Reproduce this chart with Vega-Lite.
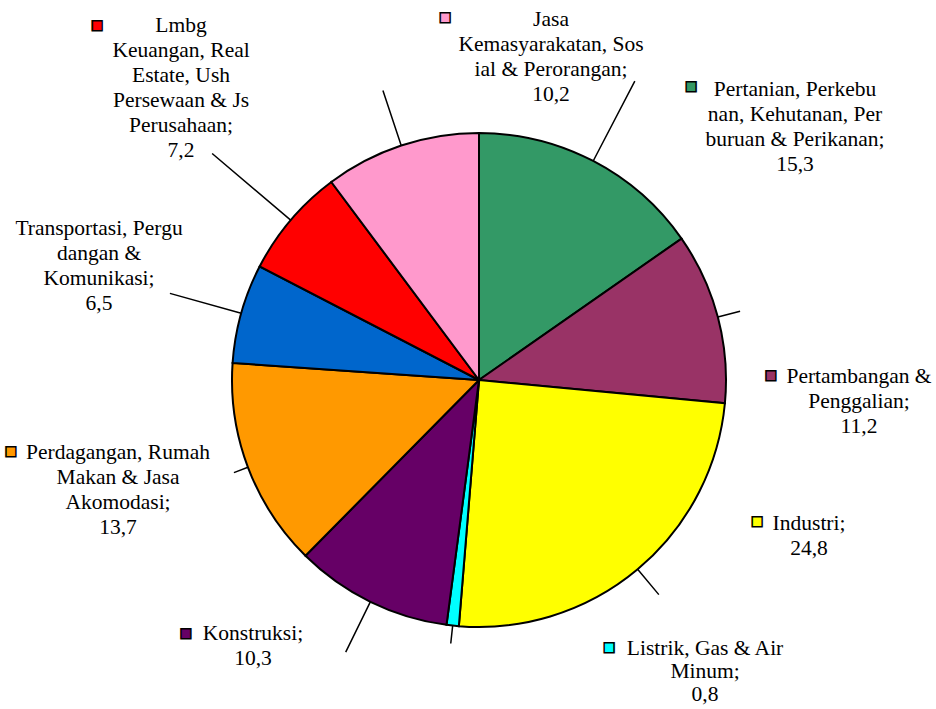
{
  "$schema": "https://vega.github.io/schema/vega-lite/v6.json",
  "width": 914,
  "height": 658,
  "padding": {"left": 22, "top": 51, "right": 0, "bottom": 0},
  "autosize": {"type": "none"},
  "background": "white",
  "config": {"view": {"stroke": null}},
  "data": {
    "values": [
      {"idx": 1, "sektor": "Pertanian", "nilai": 15.3, "label": "Pertanian, Perkebu\nnan, Kehutanan, Per\nburuan & Perikanan;\n15,3"},
      {"idx": 2, "sektor": "Pertambangan", "nilai": 11.2, "label": "Pertambangan &\nPenggalian;\n11,2"},
      {"idx": 3, "sektor": "Industri", "nilai": 24.8, "label": "Industri;\n24,8"},
      {"idx": 4, "sektor": "Listrik", "nilai": 0.8, "label": "Listrik, Gas  & Air\nMinum;\n0,8"},
      {"idx": 5, "sektor": "Konstruksi", "nilai": 10.3, "label": "Konstruksi;\n10,3"},
      {"idx": 6, "sektor": "Perdagangan", "nilai": 13.7, "label": "Perdagangan, Rumah\nMakan & Jasa\nAkomodasi;\n13,7"},
      {"idx": 7, "sektor": "Transportasi", "nilai": 6.5, "label": "Transportasi, Pergu\ndangan &\nKomunikasi;\n6,5"},
      {"idx": 8, "sektor": "Keuangan", "nilai": 7.2, "label": "Lmbg\nKeuangan, Real\nEstate, Ush\nPersewaan & Js\nPerusahaan;\n7,2"},
      {"idx": 9, "sektor": "Jasa", "nilai": 10.2, "label": "Jasa\nKemasyarakatan, Sos\nial & Perorangan;\n10,2"}
    ]
  },
  "encoding": {
    "theta": {"field": "nilai", "type": "quantitative", "stack": true},
    "order": {"field": "idx", "type": "quantitative", "sort": "ascending"},
    "detail": {"field": "sektor", "type": "nominal"}
  },
  "layer": [
    {
      "mark": {"type": "arc", "outerRadius": 247, "stroke": "black", "strokeWidth": 2},
      "encoding": {
        "color": {
          "field": "sektor", "type": "nominal", "legend": null,
          "scale": {
            "domain": ["Pertanian", "Pertambangan", "Industri", "Listrik", "Konstruksi", "Perdagangan", "Transportasi", "Keuangan", "Jasa"],
            "range": ["#339966", "#993366", "#FFFF00", "#00FFFF", "#660066", "#FF9900", "#0066CC", "#FF0000", "#FF99CC"]
          }
        }
      }
    },
    {"mark": {"type": "arc", "innerRadius": 247, "outerRadius": 337, "padAngle": 3, "fill": "transparent", "stroke": "black", "strokeWidth": 1.5},
     "encoding": {"opacity": {"condition": {"test": "datum.idx == 1", "value": 1}, "value": 0}}},
    {"mark": {"type": "arc", "innerRadius": 247, "outerRadius": 270, "padAngle": 3, "fill": "transparent", "stroke": "black", "strokeWidth": 1.5},
     "encoding": {"opacity": {"condition": {"test": "datum.idx == 2", "value": 1}, "value": 0}}},
    {"mark": {"type": "arc", "innerRadius": 247, "outerRadius": 280, "padAngle": 3, "fill": "transparent", "stroke": "black", "strokeWidth": 1.5},
     "encoding": {"opacity": {"condition": {"test": "datum.idx == 3", "value": 1}, "value": 0}}},
    {"mark": {"type": "arc", "innerRadius": 247, "outerRadius": 265, "padAngle": 3, "fill": "transparent", "stroke": "black", "strokeWidth": 1.5},
     "encoding": {"opacity": {"condition": {"test": "datum.idx == 4", "value": 1}, "value": 0}}},
    {"mark": {"type": "arc", "innerRadius": 247, "outerRadius": 303, "padAngle": 3, "fill": "transparent", "stroke": "black", "strokeWidth": 1.5},
     "encoding": {"opacity": {"condition": {"test": "datum.idx == 5", "value": 1}, "value": 0}}},
    {"mark": {"type": "arc", "innerRadius": 247, "outerRadius": 262, "padAngle": 3, "fill": "transparent", "stroke": "black", "strokeWidth": 1.5},
     "encoding": {"opacity": {"condition": {"test": "datum.idx == 6", "value": 1}, "value": 0}}},
    {"mark": {"type": "arc", "innerRadius": 247, "outerRadius": 321, "padAngle": 3, "fill": "transparent", "stroke": "black", "strokeWidth": 1.5},
     "encoding": {"opacity": {"condition": {"test": "datum.idx == 7", "value": 1}, "value": 0}}},
    {"mark": {"type": "arc", "innerRadius": 247, "outerRadius": 350, "padAngle": 3, "fill": "transparent", "stroke": "black", "strokeWidth": 1.5},
     "encoding": {"opacity": {"condition": {"test": "datum.idx == 8", "value": 1}, "value": 0}}},
    {"mark": {"type": "arc", "innerRadius": 247, "outerRadius": 305, "padAngle": 3, "fill": "transparent", "stroke": "black", "strokeWidth": 1.5},
     "encoding": {"opacity": {"condition": {"test": "datum.idx == 9", "value": 1}, "value": 0}}},

    {"mark": {"type": "text", "radius": 337, "dx": 56.2, "dy": 4.8, "align": "center", "baseline": "middle", "font": "DejaVu Sans", "fontSize": 13, "stroke": "black", "strokeWidth": 1.5},
     "encoding": {"text": {"condition": {"test": "datum.idx == 1", "value": "■"}, "value": ""}, "color": {"field": "sektor", "type": "nominal", "legend": null}}},
    {"mark": {"type": "text", "radius": 270, "dx": 30.9, "dy": 63.8, "align": "center", "baseline": "middle", "font": "DejaVu Sans", "fontSize": 13, "stroke": "black", "strokeWidth": 1.5},
     "encoding": {"text": {"condition": {"test": "datum.idx == 2", "value": "■"}, "value": ""}, "color": {"field": "sektor", "type": "nominal", "legend": null}}},
    {"mark": {"type": "text", "radius": 280, "dx": 98.2, "dy": -73.6, "align": "center", "baseline": "middle", "font": "DejaVu Sans", "fontSize": 13, "stroke": "black", "strokeWidth": 1.5},
     "encoding": {"text": {"condition": {"test": "datum.idx == 3", "value": "■"}, "value": ""}, "color": {"field": "sektor", "type": "nominal", "legend": null}}},
    {"mark": {"type": "text", "radius": 265, "dx": 158.3, "dy": 3.5, "align": "center", "baseline": "middle", "font": "DejaVu Sans", "fontSize": 13, "stroke": "black", "strokeWidth": 1.5},
     "encoding": {"text": {"condition": {"test": "datum.idx == 4", "value": "■"}, "value": ""}, "color": {"field": "sektor", "type": "nominal", "legend": null}}},
    {"mark": {"type": "text", "radius": 303, "dx": -159.7, "dy": -19.1, "align": "center", "baseline": "middle", "font": "DejaVu Sans", "fontSize": 13, "stroke": "black", "strokeWidth": 1.5},
     "encoding": {"text": {"condition": {"test": "datum.idx == 5", "value": "■"}, "value": ""}, "color": {"field": "sektor", "type": "nominal", "legend": null}}},
    {"mark": {"type": "text", "radius": 262, "dx": -222.9, "dy": -21.6, "align": "center", "baseline": "middle", "font": "DejaVu Sans", "fontSize": 13, "stroke": "black", "strokeWidth": 1.5},
     "encoding": {"text": {"condition": {"test": "datum.idx == 6", "value": "■"}, "value": ""}, "color": {"field": "sektor", "type": "nominal", "legend": null}}},
    {"mark": {"type": "text", "radius": 350, "dx": -115.1, "dy": -128.5, "align": "center", "baseline": "middle", "font": "DejaVu Sans", "fontSize": 13, "stroke": "black", "strokeWidth": 1.5},
     "encoding": {"text": {"condition": {"test": "datum.idx == 8", "value": "■"}, "value": ""}, "color": {"field": "sektor", "type": "nominal", "legend": null}}},
    {"mark": {"type": "text", "radius": 305, "dx": 62.1, "dy": -73.5, "align": "center", "baseline": "middle", "font": "DejaVu Sans", "fontSize": 13, "stroke": "black", "strokeWidth": 1.5},
     "encoding": {"text": {"condition": {"test": "datum.idx == 9", "value": "■"}, "value": ""}, "color": {"field": "sektor", "type": "nominal", "legend": null}}},

    {"mark": {"type": "text", "radius": 337, "dx": 160.2, "dy": 14.8, "align": "center", "baseline": "alphabetic", "lineBreak": "\n", "lineHeight": 25, "font": "Liberation Serif", "fontSize": 21.5, "color": "#000000"},
     "encoding": {"text": {"condition": {"test": "datum.idx == 1", "field": "label", "type": "nominal"}, "value": ""}}},
    {"mark": {"type": "text", "radius": 270, "dx": 118.9, "dy": 71.8, "align": "center", "baseline": "alphabetic", "lineBreak": "\n", "lineHeight": 25, "font": "Liberation Serif", "fontSize": 21.5, "color": "#000000"},
     "encoding": {"text": {"condition": {"test": "datum.idx == 2", "field": "label", "type": "nominal"}, "value": ""}}},
    {"mark": {"type": "text", "radius": 280, "dx": 150.2, "dy": -64.6, "align": "center", "baseline": "alphabetic", "lineBreak": "\n", "lineHeight": 25, "font": "Liberation Serif", "fontSize": 21.5, "color": "#000000"},
     "encoding": {"text": {"condition": {"test": "datum.idx == 3", "field": "label", "type": "nominal"}, "value": ""}}},
    {"mark": {"type": "text", "radius": 265, "dx": 254.3, "dy": 11.5, "align": "center", "baseline": "alphabetic", "lineBreak": "\n", "lineHeight": 23, "font": "Liberation Serif", "fontSize": 21.5, "color": "#000000"},
     "encoding": {"text": {"condition": {"test": "datum.idx == 4", "field": "label", "type": "nominal"}, "value": ""}}},
    {"mark": {"type": "text", "radius": 303, "dx": -92.7, "dy": -12.1, "align": "center", "baseline": "alphabetic", "lineBreak": "\n", "lineHeight": 25, "font": "Liberation Serif", "fontSize": 21.5, "color": "#000000"},
     "encoding": {"text": {"condition": {"test": "datum.idx == 5", "field": "label", "type": "nominal"}, "value": ""}}},
    {"mark": {"type": "text", "radius": 262, "dx": -115.9, "dy": -13.6, "align": "center", "baseline": "alphabetic", "lineBreak": "\n", "lineHeight": 25, "font": "Liberation Serif", "fontSize": 21.5, "color": "#000000"},
     "encoding": {"text": {"condition": {"test": "datum.idx == 6", "field": "label", "type": "nominal"}, "value": ""}}},
    {"mark": {"type": "text", "radius": 321, "dx": -70.9, "dy": -58.4, "align": "center", "baseline": "alphabetic", "lineBreak": "\n", "lineHeight": 25, "font": "Liberation Serif", "fontSize": 21.5, "color": "#000000"},
     "encoding": {"text": {"condition": {"test": "datum.idx == 7", "field": "label", "type": "nominal"}, "value": ""}}},
    {"mark": {"type": "text", "radius": 350, "dx": -31.1, "dy": -121.5, "align": "center", "baseline": "alphabetic", "lineBreak": "\n", "lineHeight": 25, "font": "Liberation Serif", "fontSize": 21.5, "color": "#000000"},
     "encoding": {"text": {"condition": {"test": "datum.idx == 8", "field": "label", "type": "nominal"}, "value": ""}}},
    {"mark": {"type": "text", "radius": 305, "dx": 168.1, "dy": -64.5, "align": "center", "baseline": "alphabetic", "lineBreak": "\n", "lineHeight": 25, "font": "Liberation Serif", "fontSize": 21.5, "color": "#000000"},
     "encoding": {"text": {"condition": {"test": "datum.idx == 9", "field": "label", "type": "nominal"}, "value": ""}}}
  ]
}
